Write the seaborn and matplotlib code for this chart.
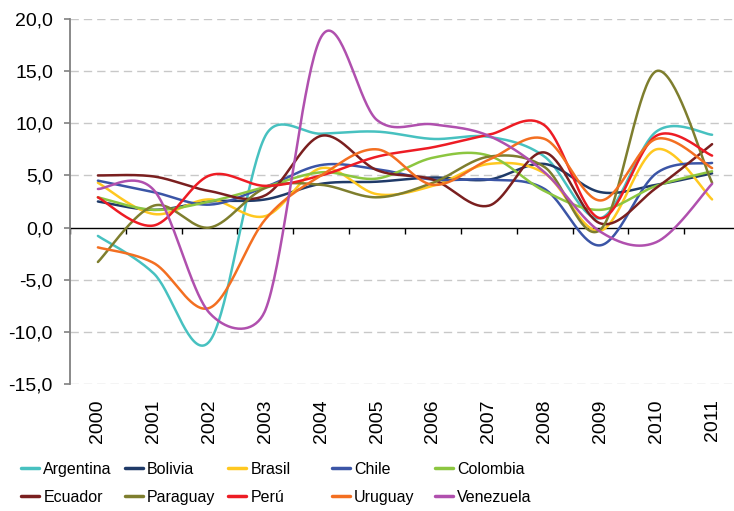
import numpy as np
import pandas as pd
import matplotlib
matplotlib.use('Agg')
import matplotlib.pyplot as plt
import seaborn as sns
from matplotlib.lines import Line2D

# Dados: crescimento do PIB (%) 2000-2011
anos = [str(a) for a in range(2000, 2012)]
paises = ['Argentina', 'Bolivia', 'Brasil', 'Chile', 'Colombia',
          'Ecuador', 'Paraguay', 'Perú', 'Uruguay', 'Venezuela']

argentina = [-0.8, -4.4, -10.9, 8.8, 9.0, 9.2, 8.5, 8.7, 6.8, 0.9, 9.2, 8.9]
bolivia = [2.5, 1.7, 2.5, 2.7, 4.2, 4.4, 4.8, 4.6, 6.1, 3.4, 4.1, 5.2]
brasil = [4.3, 1.3, 2.7, 1.1, 5.7, 3.2, 4.0, 6.1, 5.2, -0.3, 7.5, 2.7]
chile = [4.5, 3.4, 2.2, 3.9, 6.0, 5.6, 4.6, 4.6, 3.7, -1.7, 5.2, 6.2]
colombia = [2.9, 1.7, 2.5, 3.9, 5.3, 4.7, 6.7, 6.9, 3.5, 1.7, 4.0, 5.4]
ecuador = [5.0, 4.9, 3.5, 3.1, 8.8, 5.5, 4.6, 2.1, 7.2, 0.4, 3.8, 8.0]
paraguay = [-3.3, 2.1, 0.0, 3.8, 4.1, 2.9, 4.3, 6.8, 5.8, -0.2, 15.0, 4.3]
peru = [2.9, 0.2, 5.0, 4.0, 5.0, 6.8, 7.7, 8.9, 9.8, 0.9, 8.8, 6.9]
uruguay = [-1.9, -3.4, -7.7, 0.8, 5.0, 7.5, 4.1, 6.5, 8.5, 2.6, 8.5, 5.7]
venezuela = [3.7, 3.6, -8.2, -7.9, 18.3, 10.3, 9.9, 8.8, 5.3, -0.4, -1.4, 4.2]

series = [argentina, bolivia, brasil, chile, colombia,
          ecuador, paraguay, peru, uruguay, venezuela]

cores = ['#47C1C0', '#1F3A68', '#FFC820', '#3B55A6', '#8CC640',
         '#7A1F1F', '#7E7E2E', '#ED1C24', '#F36F21', '#B050AE']

yticks = [-15, -10, -5, 0, 5, 10, 15, 20]
ytick_labels = [f'{v:.1f}'.replace('.', ',') for v in yticks]

sns.set_theme(style='white')
plt.rcParams['font.family'] = ['Liberation Sans', 'DejaVu Sans']
plt.rcParams['text.color'] = 'black'

W, H = 734, 511
fig = plt.figure(figsize=(W / 100, H / 100), dpi=100)
ax = fig.add_axes([70 / W, 1 - 384 / H, 670 / W, 365 / H])

# escala em pixels, para suavizar como o Excel
px_ano = 670 / 12
px_val = 365 / 35


def suavizar(ys, n=40):
    # curva de Bezier no estilo "linha suavizada" do Excel
    p = np.column_stack([np.arange(len(ys)) * px_ano, np.asarray(ys, float) * px_val])
    m = len(p)
    t = np.linspace(0, 1, n)[:, None]
    pontos = []
    for i in range(m - 1):
        p1, p2 = p[i], p[i + 1]
        p0 = p[i - 1] if i > 0 else p1
        p3 = p[i + 2] if i + 2 < m else p2
        d12 = np.linalg.norm(p2 - p1)
        d02 = np.linalg.norm(p2 - p0)
        d13 = np.linalg.norm(p3 - p1)
        f = 1 / 6 if d02 / 6 < d12 / 2 else d12 / (2 * d02)
        g = 1 / 6 if d13 / 6 < d12 / 2 else d12 / (2 * d13)
        c1 = p1 + f * (p2 - p0)
        c2 = p2 - g * (p3 - p1)
        b = ((1 - t) ** 3) * p1 + 3 * ((1 - t) ** 2) * t * c1 \
            + 3 * (1 - t) * t ** 2 * c2 + t ** 3 * p2
        pontos.append(b if i == 0 else b[1:])
    pts = np.vstack(pontos)
    return pts[:, 0] / px_ano, pts[:, 1] / px_val


linhas = []
for pais, ys in zip(paises, series):
    xs, ss = suavizar(ys)
    linhas.append(pd.DataFrame({'x': xs, 'y': ss, 'pais': pais}))
df = pd.concat(linhas, ignore_index=True)

# grade tracejada
for v in yticks:
    if v != 0:
        ax.axhline(v, color='#C8C8C8', lw=1.0, ls=(0, (6, 3.6)), zorder=0)

sns.lineplot(data=df, x='x', y='y', hue='pais', hue_order=paises, palette=cores,
             sort=False, estimator=None, lw=1.8, legend=False, ax=ax)

ax.set_xlim(-0.5, 11.5)
ax.set_ylim(-15, 20)
ax.set_xlabel('')
ax.set_ylabel('')

for s in ['top', 'right', 'bottom']:
    ax.spines[s].set_visible(False)
ax.spines['left'].set_color('#808080')
ax.spines['left'].set_linewidth(1.3)

ax.set_yticks(yticks)
ax.set_yticklabels(ytick_labels, fontsize=14)
ax.tick_params(axis='y', left=True, length=4.3, width=1.2, color='#808080', pad=8, labelcolor='black')

ax.set_xticks(range(len(anos)))
ax.set_xticklabels(anos, rotation=90, fontsize=14)
ax.tick_params(axis='x', bottom=True, length=0, pad=11, labelcolor='black')

# eixo horizontal no zero com marcas entre categorias
sec = ax.secondary_xaxis(0, transform=ax.transData)
sec.set_xticks(np.arange(-0.5, 12, 1))
sec.set_xticklabels([])
sec.tick_params(length=4.5, width=1.0, color='black', direction='out')
for s in sec.spines.values():
    s.set_color('black')
    s.set_linewidth(1.0)

# legenda em 5 colunas de largura fixa
ncol = 5
for c in range(ncol):
    idx = [c, c + ncol]
    handles = [Line2D([], [], color=cores[i], lw=2.5) for i in idx]
    fig.legend(handles, [paises[i] for i in idx], loc='upper left',
               bbox_to_anchor=((21 + 103.5 * c) / W, 1 - 462 / H),
               frameon=False, borderpad=0, borderaxespad=0,
               handlelength=1.15, handletextpad=0.25, labelspacing=0.8,
               prop={'size': 11.5})

fig.savefig('out.png', dpi=100)
